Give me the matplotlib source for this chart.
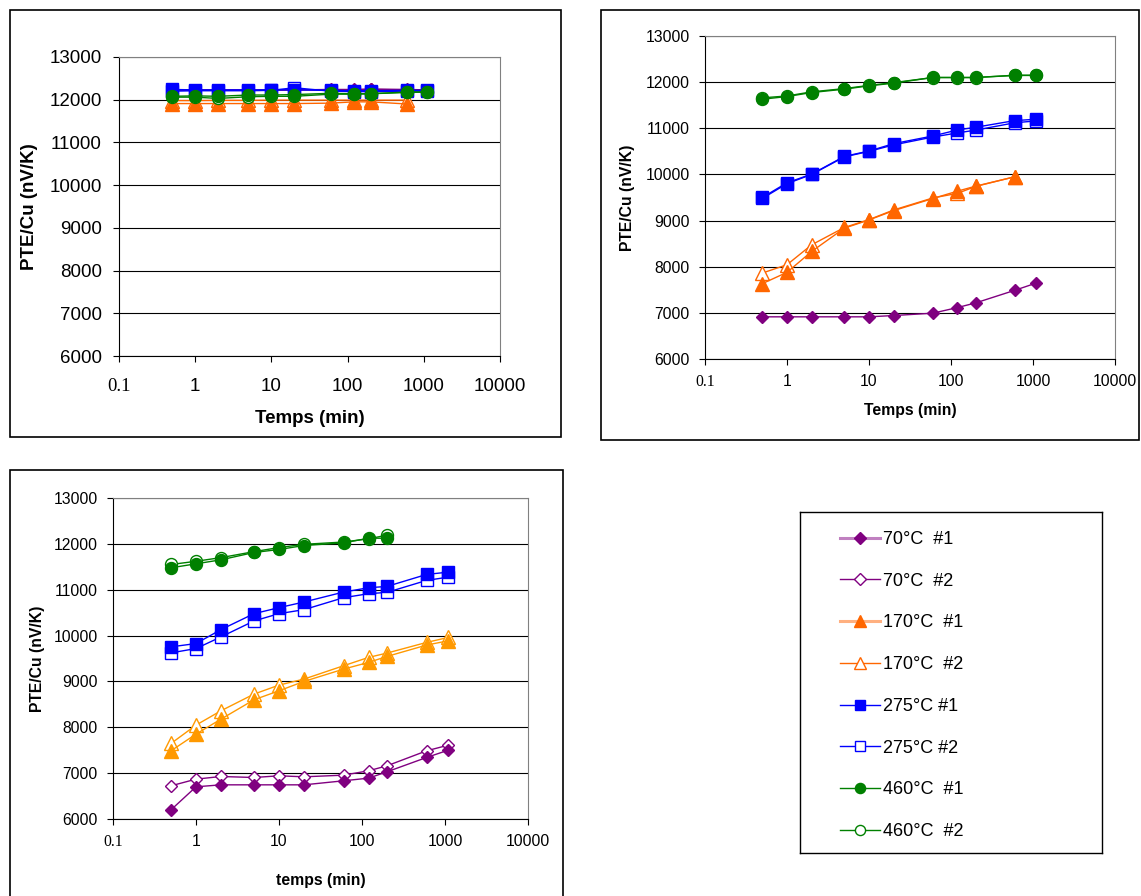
import matplotlib
matplotlib.use("Agg")
import matplotlib.pyplot as plt
from matplotlib.patches import Rectangle
from matplotlib.lines import Line2D
from matplotlib.ticker import FixedLocator, FixedFormatter, NullLocator

plt.rcParams['font.family'] = ['Liberation Sans', 'DejaVu Sans']

W, H = 1141, 896

# annealing times (min)
t_all = [0.5, 1, 2, 5, 10, 20, 60, 120, 200, 600, 1100]

labels = ["70°C  #1", "70°C  #2", "170°C  #1", "170°C  #2",
          "275°C #1", "275°C #2", "460°C  #1", "460°C  #2"]

x_ticks = [0.1, 1, 10, 100, 1000, 10000]
x_tick_labels = ["0.1", "1", "10", "100", "1000", "10000"]
y_ticks = [6000, 7000, 8000, 9000, 10000, 11000, 12000, 13000]

# top left panel
a_70_1 = [12230, 12230, 12230, 12230, 12230, 12230, 12240, 12240, 12250, 12240, 12230]
a_70_2 = [12220, 12220, 12220, 12220, 12220, 12230, 12230, 12230, 12240, 12230, 12220]
a_170_1 = [11910, 11910, 11910, 11910, 11910, 11910, 11920, 11950, 11950, 11900]
a_170_2 = [11980, 11980, 11985, 11985, 11990, 11990, 11990, 11990, 11990, 11990]
a_275_1 = [12240, 12230, 12230, 12230, 12230, 12230, 12220, 12210, 12210, 12220, 12220]
a_275_2 = [12200, 12210, 12210, 12210, 12220, 12280, 12200, 12190, 12190, 12200, 12200]
a_460_1 = [12080, 12090, 12080, 12110, 12110, 12120, 12150, 12140, 12140, 12180, 12180]
a_460_2 = [12060, 12060, 12030, 12070, 12080, 12080, 12130, 12130, 12140, 12170, 12180]

# top right panel
b_70_1 = [6914, 6914, 6914, 6914, 6914, 6942, 6993, 7115, 7216, 7489, 7647]
b_170_1 = [7633, 7878, 8331, 8835, 9014, 9216, 9478, 9638, 9746, 9949]
b_170_2 = [7863, 8043, 8475, 8850, 9020, 9230, 9490, 9590, 9740, 9950]
b_275_1 = [9500, 9819, 10007, 10391, 10507, 10667, 10833, 10964, 11022, 11167, 11196]
b_275_2 = [9480, 9800, 10000, 10380, 10500, 10640, 10810, 10900, 10960, 11120, 11160]
b_460_1 = [11630, 11688, 11775, 11848, 11920, 11978, 12101, 12101, 12101, 12145, 12145]
b_460_2 = [11660, 11700, 11790, 11860, 11930, 11990, 12100, 12100, 12100, 12150, 12150]

# bottom left panel
c_70_1 = [6200, 6702, 6745, 6745, 6745, 6745, 6833, 6891, 7029, 7342, 7502]
c_70_2 = [6724, 6869, 6927, 6905, 6942, 6920, 6956, 7051, 7160, 7487, 7611]
c_170_1 = [7487, 7851, 8178, 8600, 8796, 9000, 9269, 9415, 9545, 9793, 9887]
c_170_2 = [7647, 8047, 8360, 8724, 8920, 9051, 9342, 9524, 9618, 9851, 9960]
c_275_1 = [9754, 9826, 10130, 10478, 10609, 10732, 10949, 11043, 11072, 11333, 11384]
c_275_2 = [9623, 9717, 9971, 10319, 10478, 10565, 10826, 10913, 10942, 11203, 11275]
c_460_1 = [11478, 11565, 11652, 11812, 11877, 11964, 12022, 12123, 12123]
c_460_2 = [11550, 11620, 11700, 11830, 11920, 11990, 12040, 12110, 12190]

purple = '#800080'
orange = '#FF6600'
amber = '#FF9900'
blue = '#0000FF'
green = '#008000'


def style(label, col):
    # marker shape by temperature, filled for #1, hollow for #2
    mk = {'70': ('D', 6.6), '170': ('^', 9.4), '275': ('s', 9.2), '460': ('o', 8.6)}
    m, ms = mk[label.split('°')[0]]
    face = col if label.endswith('#1') else 'white'
    return dict(color=col, marker=m, markersize=ms, markerfacecolor=face,
                markeredgecolor=col, markeredgewidth=1.0, lw=1.0)


def px_axes(fig, x0, y0, x1, y1):
    return fig.add_axes([x0 / W, 1 - y1 / H, (x1 - x0) / W, (y1 - y0) / H])


def setup(ax, fs_tick, fs_lab, xlab, xpad, ypad, xl_y, yl_x):
    ax.set_xscale('log')
    ax.set_xlim(0.1, 10000)
    ax.set_ylim(6000, 13000)
    ax.xaxis.set_major_locator(FixedLocator(x_ticks))
    ax.xaxis.set_major_formatter(FixedFormatter(x_tick_labels))
    ax.xaxis.set_minor_locator(NullLocator())
    ax.set_yticks(y_ticks)
    ax.yaxis.grid(True, color='black', lw=0.8)
    ax.set_axisbelow(True)
    ax.tick_params(axis='x', direction='out', length=4, width=0.8, pad=xpad, labelsize=fs_tick)
    ax.tick_params(axis='y', direction='out', length=4.5, width=0.8, pad=ypad, labelsize=fs_tick)
    ax.get_xticklabels()[0].set_fontfamily(['Liberation Serif'])
    for s in ['top', 'right']:
        ax.spines[s].set_color('#808080')
    for s in ['left', 'bottom']:
        ax.spines[s].set_color('black')
    ax.set_xlabel(xlab, fontsize=fs_lab, fontweight='bold', va='center')
    ax.set_ylabel('PTE/Cu (nV/K)', fontsize=fs_lab, fontweight='bold', va='center')
    ax.xaxis.set_label_coords(0.5, xl_y)
    ax.yaxis.set_label_coords(yl_x, 0.5)


fig = plt.figure(figsize=(W / 100, H / 100), dpi=100)

# chart borders
for (x0, y0, x1, y1) in [(10, 10, 561, 437), (601, 10, 1139, 440), (10, 470, 563, 905)]:
    fig.add_artist(Rectangle((x0 / W, 1 - y1 / H), (x1 - x0) / W, (y1 - y0) / H,
                             transform=fig.transFigure, fill=False, edgecolor='black', lw=1.2))

# top left
ax1 = px_axes(fig, 119, 57, 500, 356)
sets1 = [("70°C  #2", a_70_2, purple), ("70°C  #1", a_70_1, purple),
         ("170°C  #2", a_170_2, orange), ("170°C  #1", a_170_1, orange),
         ("275°C #2", a_275_2, blue), ("275°C #1", a_275_1, blue),
         ("460°C  #2", a_460_2, green), ("460°C  #1", a_460_1, green)]
for lab, vals, col in sets1:
    ax1.plot(t_all[:len(vals)], vals, **style(lab, col))
setup(ax1, 13.5, 13.5, 'Temps (min)', 12, 8, -0.21, -0.235)

# top right
ax2 = px_axes(fig, 705, 36, 1115, 359)
sets2 = [("70°C  #1", b_70_1, purple),
         ("170°C  #2", b_170_2, orange), ("170°C  #1", b_170_1, orange),
         ("275°C #2", b_275_2, blue), ("275°C #1", b_275_1, blue),
         ("460°C  #2", b_460_2, green), ("460°C  #1", b_460_1, green)]
for lab, vals, col in sets2:
    ax2.plot(t_all[:len(vals)], vals, **style(lab, col))
setup(ax2, 11.3, 11.3, 'Temps (min)', 6.5, 6.5, -0.158, -0.188)

# bottom left
ax3 = px_axes(fig, 113, 498, 528, 819)
sets3 = [("70°C  #2", c_70_2, purple), ("70°C  #1", c_70_1, purple),
         ("170°C  #2", c_170_2, amber), ("170°C  #1", c_170_1, amber),
         ("275°C #2", c_275_2, blue), ("275°C #1", c_275_1, blue),
         ("460°C  #2", c_460_2, green), ("460°C  #1", c_460_1, green)]
for lab, vals, col in sets3:
    ax3.plot(t_all[:len(vals)], vals, **style(lab, col))
setup(ax3, 11.3, 11.3, 'temps (min)', 6.5, 6.5, -0.193, -0.181)

# legend
axl = px_axes(fig, 800, 512, 1102, 853)
axl.set_xticks([])
axl.set_yticks([])
for s in axl.spines.values():
    s.set_color('black')
    s.set_linewidth(1.0)
leg_cols = [purple, purple, orange, orange, blue, blue, green, green]
handles = []
for lab, col in zip(labels, leg_cols):
    st = style(lab, col)
    st['markersize'] = st['markersize'] * 0.85
    h = Line2D([], [], **st)
    if lab in ("70°C  #1", "170°C  #1"):
        # these two entries show a wider, paler line in the original
        h.set_linewidth(2.2)
        h.set_color({'70°C  #1': '#C080C0', '170°C  #1': '#FFB080'}[lab])
        h.set_markeredgecolor(col)
        h.set_markerfacecolor(col)
    handles.append(h)
axl.legend(handles, labels, loc='center left', bbox_to_anchor=(0.1325, 0.491),
           frameon=False, fontsize=13, labelspacing=1.37, handlelength=2.2,
           handletextpad=0.2, borderpad=0, borderaxespad=0)

fig.savefig('out.png', dpi=100)
